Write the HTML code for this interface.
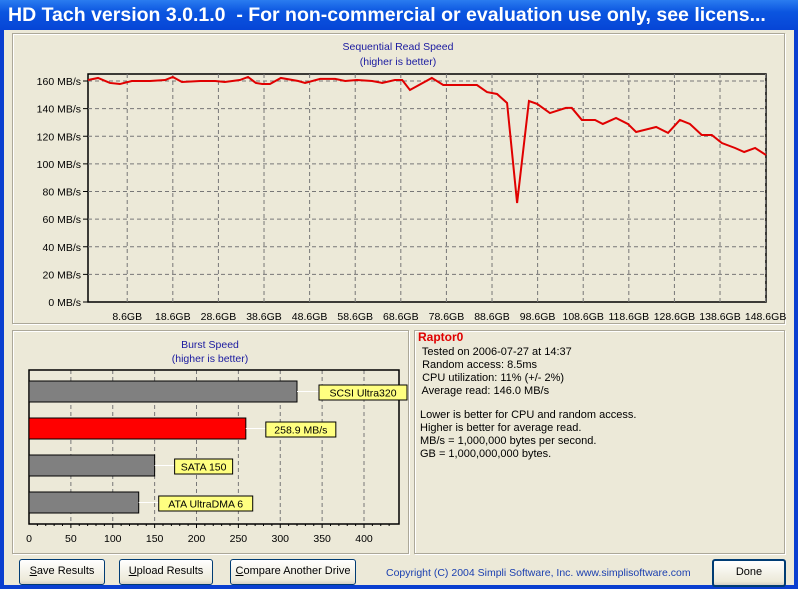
<!DOCTYPE html>
<html><head><meta charset="utf-8"><style>
body{margin:0;width:798px;height:589px;overflow:hidden;font-family:"Liberation Sans",sans-serif;}
#win{position:absolute;left:0;top:0;width:798px;height:589px;background:#0a3fd0;}
#title{position:absolute;left:0;top:0;width:798px;height:30px;background:linear-gradient(#2a7cf0,#0b55e0 40%,#0645d6);color:#fff;font-weight:bold;font-size:19.5px;line-height:30px;padding-left:8px;box-sizing:border-box;white-space:nowrap;overflow:hidden;}
#body{position:absolute;left:4px;top:30px;width:790px;height:555px;background:#ece9d8;}
.frame{position:absolute;border:1px solid #aca899;box-shadow:1px 1px 0 #fff inset,1px 1px 0 #fff;}
.btn{position:absolute;top:529px;height:24px;border:1px solid #003c74;border-radius:3px;background:linear-gradient(#fff,#ece9d8 85%,#d6d0c5);font-size:11px;text-align:center;line-height:23px;color:#000;white-space:nowrap;}
.info{position:absolute;left:416px;font-size:11px;color:#000;line-height:13px;white-space:pre;}
</style></head><body>
<div id="win">
<div id="title">HD Tach version 3.0.1.0&nbsp; - For non-commercial or evaluation use only, see licens...</div>
<div id="body">
<div class="frame" style="left:8px;top:3px;width:771px;height:289px"></div>
<div class="frame" style="left:8px;top:300px;width:395px;height:222px"></div>
<div class="frame" style="left:410px;top:300px;width:369px;height:222px;background:#ece9d8"></div>
<div class="btn" style="left:15px;width:84px"><u>S</u>ave Results</div>
<div class="btn" style="left:115px;width:92px"><u>U</u>pload Results</div>
<div class="btn" style="left:226px;width:124px"><u>C</u>ompare Another Drive</div>
<div style="position:absolute;left:382px;top:537px;font-size:10.5px;color:#1a3fb0;white-space:nowrap">Copyright (C) 2004 Simpli Software, Inc. www.simplisoftware.com</div>
<div class="btn" style="left:708px;width:70px;border:2px solid #003c74">Done</div>
</div>
<div class="info" style="top:331px;left:418px;color:#e00000;font-weight:bold;font-size:12px">Raptor0</div>
<div class="info" style="top:346px">  Tested on 2006-07-27 at 14:37
  Random access: 8.5ms
  CPU utilization: 11% (+/- 2%)
  Average read: 146.0 MB/s</div>
<div class="info" style="top:409px;left:420px">Lower is better for CPU and random access.
Higher is better for average read.
MB/s = 1,000,000 bytes per second.
GB = 1,000,000,000 bytes.</div>
<svg id="chart" width="798" height="589" style="position:absolute;left:0;top:0" font-family="Liberation Sans, sans-serif"></svg>
</div>
<script>
const readGB=[0,2.2,4.8,7.0,9.6,13.6,16.9,18.6,20.6,24.6,27.9,30.0,33.3,35.1,36.8,38.2,39.9,42.3,46.1,47.6,50.9,54.2,56.4,59.0,62.3,64.5,67.3,68.9,70.6,75.4,77.9,85.3,87.5,89.7,91.9,94.1,96.7,98.5,101.3,104.8,106.1,108.3,111.2,112.9,115.8,118.4,120.2,124.6,127.2,129.8,132.0,134.6,136.8,139.0,141.9,143.9,146.3,148.7];
const readMBs=[160.7,162.2,158.6,157.8,160,160,160.7,162.9,159.3,160,160,159.3,160.7,162.9,158.6,157.8,157.8,162.2,160,158.6,161.5,161.5,160,160.7,160,158.6,160.7,160.7,153.5,162.2,157.1,157.1,152,150.6,144.1,71.7,145.5,143.4,136.8,140.5,140.5,131.8,131.8,128.9,133.2,128.9,123.1,126.7,122.4,131.8,128.9,120.9,120.9,115.1,111.5,108.6,111.5,106.4];
const yTicks=[0,20,40,60,80,100,120,140,160];
const xTicks=[8.6,18.6,28.6,38.6,48.6,58.6,68.6,78.6,88.6,98.6,108.6,118.6,128.6,138.6,148.6];
const burstNames=["SCSI Ultra320","258.9 MB/s","SATA 150","ATA UltraDMA 6"];
const burstVals=[320,258.9,150,131];
const burstTicks=[0,50,100,150,200,250,300,350,400];

const NS="http://www.w3.org/2000/svg",svg=document.getElementById('chart');
function mk(t,a,p){const e=document.createElementNS(NS,t);for(const k in a)e.setAttribute(k,a[k]);(p||svg).appendChild(e);return e;}
const X=g=>88+g*4.56, Y=v=>302-v*221/160;
const bX=v=>29+v*0.8375;
const FS=10.5;
let t=mk('text',{x:398,y:50,'font-size':FS,fill:'#1a1aa0','text-anchor':'middle'});t.textContent='Sequential Read Speed';

t=mk('text',{x:398,y:65,'font-size':FS,fill:'#1a1aa0','text-anchor':'middle'});t.textContent='(higher is better)';

let r=mk('rect',{x:88,y:74,width:678,height:228,fill:'none',stroke:'#000','stroke-width':1.5});

yTicks.forEach(v=>{const y=Y(v);
 if(v>0){const l=mk('line',{x1:88,x2:766,y1:y,y2:y,stroke:'#777','stroke-dasharray':'4,3'});}
 const tt=mk('text',{x:81,y:y+4,'font-size':FS,'text-anchor':'end'});tt.textContent=v+' MB/s';
 
 mk('line',{x1:83,x2:88,y1:y,y2:y,stroke:'#000'});});
xTicks.forEach(g=>{const x=X(g);
 const l=mk('line',{x1:x,x2:x,y1:74,y2:302,stroke:'#777','stroke-dasharray':'4,3'});
 const tt=mk('text',{x:x,y:320,'font-size':FS,'text-anchor':'middle'});tt.textContent=g.toFixed(1)+'GB';
 });
const pl=mk('polyline',{points:readGB.map((g,i)=>X(g)+','+Y(readMBs[i])).join(' '),fill:'none',stroke:'#e00000','stroke-width':2});

t=mk('text',{x:210,y:348,'font-size':FS,fill:'#1a1aa0','text-anchor':'middle'});t.textContent='Burst Speed';

t=mk('text',{x:210,y:362,'font-size':FS,fill:'#1a1aa0','text-anchor':'middle'});t.textContent='(higher is better)';

burstTicks.forEach(v=>{const x=bX(v);
 if(v>0){const l=mk('line',{x1:x,x2:x,y1:370,y2:524,stroke:'#777','stroke-dasharray':'4,3'});}
 const tt=mk('text',{x:x,y:542,'font-size':FS,'text-anchor':'middle'});tt.textContent=v;
 });
for(let v=10;v<440;v+=10)mk('line',{x1:bX(v),x2:bX(v),y1:524,y2:v%50?526:528,stroke:'#000'});
r=mk('rect',{x:29,y:370,width:370,height:154,fill:'none',stroke:'#000','stroke-width':1.5});

burstVals.forEach((v,i)=>{const y=381+i*37;
 const b=mk('rect',{x:29,y:y,width:bX(v)-29,height:21,fill:i==1?'#ff0000':'#808080',stroke:'#000'});
 
 const w=burstNames[i].length*6.0+10, lx=bX(v)+ (i==0?22:20);
 mk('line',{x1:bX(v),x2:lx,y1:y+10.5,y2:y+10.5,stroke:'#fff'});
 const lb=mk('rect',{x:lx,y:y+4,width:w,height:15,fill:'#ffff80',stroke:'#000'});
 
 const tt=mk('text',{x:lx+w/2,y:y+15.5,'font-size':FS,'text-anchor':'middle'});tt.textContent=burstNames[i];
 });
</script>
</body></html>
